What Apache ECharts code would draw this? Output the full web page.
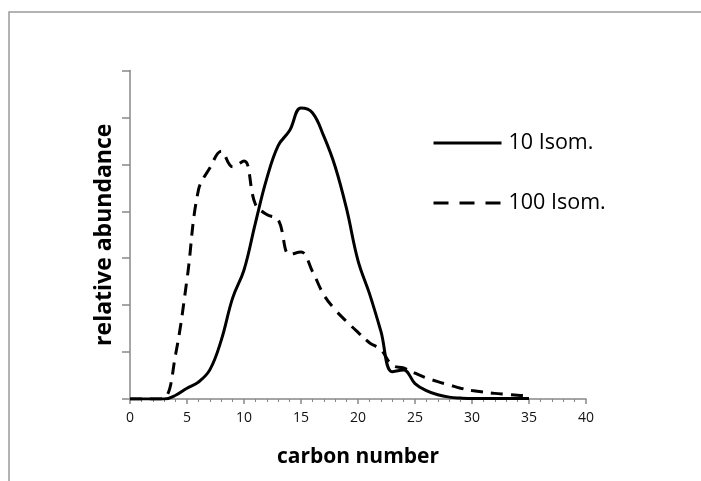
<!DOCTYPE html>
<html>
<head>
<meta charset="utf-8">
<script src="https://cdn.jsdelivr.net/npm/echarts@6/dist/echarts.min.js"></script>
<style>html,body{margin:0;padding:0;background:#fff}#c{width:701px;height:481px}</style>
</head>
<body>
<div id="c"></div>
<script>
const carbonNumbers = [0,1,2,3,4,5,6,7,8,9,10,11,12,13,14,15,16,17,18,19,20,21,22,23,24,25,26,27,28,29,30,31,32,33,34,35];
const isom10 = [0,0,0,0,0.08,0.23,0.36,0.62,1.25,2.15,2.75,3.75,4.7,5.4,5.72,6.2,6.1,5.6,4.95,4.05,2.95,2.25,1.45,0.58,0.62,0.33,0.18,0.09,0.04,0.02,0.01,0.01,0.01,0.01,0.01,0.01];
const isom100 = [0,0,0,0.02,0.95,2.55,4.45,4.92,5.28,4.95,5.07,4.15,3.93,3.82,3.08,3.13,2.72,2.22,1.9,1.65,1.42,1.2,1.05,0.72,0.66,0.55,0.45,0.37,0.3,0.23,0.18,0.15,0.12,0.1,0.08,0.07];
const seriesNames = ['10 Isom.', '100 Isom.'];
const xTitle = 'carbon number';
const yTitle = 'relative abundance';

const chart = echarts.init(document.getElementById('c'), null, {renderer: 'canvas'});
const pair = (xs, ys) => xs.map((x, i) => [x, ys[i]]);
chart.setOption({
  animation: false,
  backgroundColor: '#fff',
  graphic: [{
    type: 'rect', shape: {x: 9, y: 12, width: 900, height: 700},
    style: {fill: 'none', stroke: '#9a9a9a', lineWidth: 1.5}, silent: true
  }],
  grid: {left: 130, right: 115, top: 70.5, bottom: 82, containLabel: false},
  legend: {
    orient: 'vertical', left: 427, top: 127, itemGap: 38,
    itemWidth: 68, itemHeight: 20,
    itemStyle: {opacity: 0},
    textStyle: {fontFamily: 'Open Sans', fontSize: 21.5, color: '#000', padding: [0, 0, 0, 2]},
    data: [
      {name: seriesNames[0], lineStyle: {width: 3, type: 'solid', color: '#000'}},
      {name: seriesNames[1], lineStyle: {width: 3, type: [15, 11], color: '#000'}}
    ]
  },
  xAxis: {
    type: 'value', min: 0, max: 40, interval: 5,
    name: xTitle, nameLocation: 'middle', nameGap: 48,
    nameTextStyle: {fontFamily: 'Open Sans', fontWeight: 'bold', fontSize: 21, color: '#000'},
    axisLine: {lineStyle: {color: '#888', width: 1.5}},
    axisTick: {show: true, length: 5, lineStyle: {color: '#888', width: 1.5}},
    minorTick: {show: true, splitNumber: 5, length: 3, lineStyle: {color: '#888', width: 1}},
    axisLabel: {fontFamily: 'Open Sans', fontSize: 14, color: '#111', margin: 12},
    splitLine: {show: false}
  },
  yAxis: {
    type: 'value', min: 0, max: 7, interval: 1,
    name: yTitle, nameLocation: 'middle', nameGap: 14, nameRotate: 90,
    nameTextStyle: {fontFamily: 'Open Sans', fontWeight: 'bold', fontSize: 23, color: '#000'},
    axisLine: {show: true, lineStyle: {color: '#888', width: 1.5}},
    axisTick: {show: true, length: 8, lineStyle: {color: '#888', width: 1.5}},
    axisLabel: {show: false},
    splitLine: {show: false}
  },
  series: [
    {name: seriesNames[0], type: 'line', data: pair(carbonNumbers, isom10), smooth: 0.4,
     showSymbol: false, symbol: 'none', lineStyle: {color: '#000', width: 3}, itemStyle: {color: '#000'}},
    {name: seriesNames[1], type: 'line', data: pair(carbonNumbers, isom100), smooth: 0.4,
     showSymbol: false, symbol: 'none', lineStyle: {color: '#000', width: 3, type: [12, 8]}, itemStyle: {color: '#000'}}
  ]
});
</script>
</body>
</html>
